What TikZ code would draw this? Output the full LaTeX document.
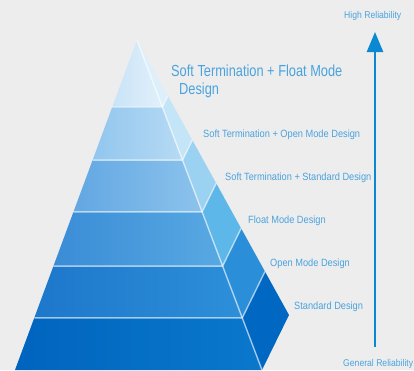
\documentclass[tikz,border=0pt]{standalone}
\usepackage{fontspec}
\setmainfont[FakeStretch=0.8]{Liberation Sans}
\newfontfamily\tierfont[FakeStretch=0.88]{Liberation Sans}
\usetikzlibrary{arrows.meta,calc,positioning}
\definecolor{bg}{HTML}{EDEDED}
\definecolor{txtblue}{HTML}{4AA3DE}
\definecolor{arrblue}{HTML}{0A88D2}
\tikzset{%
	tierlabel/.style = {text=txtblue, font=\tierfont\fontsize{10.5}{12}\selectfont, inner sep=0pt, anchor=west},
	biglabel/.style  = {tierlabel, font=\rmfamily\fontsize{16}{18}\selectfont, align=left},
	endlabel/.style  = {text=txtblue, font=\tierfont\fontsize{9.8}{11}\selectfont, inner sep=0pt, anchor=west},
	seam/.style      = {draw=white, draw opacity=0.6, line width=1.4pt},
	reach/.style     = {draw=arrblue, line width=2.6pt, -{Triangle[length=20pt,width=16pt]}},
}

\begin{document}
\begin{tikzpicture}[x=1pt,y=-1pt]
	\fill[bg] (0,0) rectangle (414,370);
	\useasboundingbox (0,0) rectangle (414,370);
	\coordinate (apex) at (137,40);
	\coordinate (bl) at (15,370);
	\coordinate (br) at (262,370);
	\coordinate (sd) at (289,315);

	% tiers: from / to / front left / front right / side
	\foreach \fa/\fb/\cl/\cr/\cs in {0/0.203/C9E3F7/E2F0FB/DCEFFB,
		0.203/0.364/92C6EE/B6DAF4/C4E4F7,
		0.364/0.521/62A7E3/8CC3EC/9BD1F1,
		0.521/0.685/3A8CD6/58A9E2/5DB7E8,
		0.685/0.842/1D77CB/2D8FD9/2A8ED8,
		0.842/1/0064BE/0A78CC/0068C3}{
		\definecolor{frontl}{HTML}{\cl}
		\definecolor{frontr}{HTML}{\cr}
		\definecolor{side}{HTML}{\cs}
		\shade[left color=frontl, right color=frontr] ($(apex)!\fa!(bl)$) -- ($(apex)!\fa!(br)$) -- ($(apex)!\fb!(br)$) -- ($(apex)!\fb!(bl)$) -- cycle;
		\fill[side] ($(apex)!\fa!(br)$) -- ($(apex)!\fa!(sd)$) -- ($(apex)!\fb!(sd)$) -- ($(apex)!\fb!(br)$) -- cycle;
	}
	\foreach \f in {0.203,0.364,0.521,0.685,0.842}
		\draw[seam] ($(apex)!\f!(bl)$) -- ($(apex)!\f!(br)$) -- ($(apex)!\f!(sd)$);
	\draw[seam] (apex) -- (br);

	\node[biglabel] (t6) at (171,81) {Soft Termination + Float Mode\\\hspace*{8pt}Design};
	\node[tierlabel] (t5) at (203,134.5) {Soft Termination + Open Mode Design};
	\node[tierlabel] (t4) at (225,177.5) {Soft Termination + Standard Design};
	\node[tierlabel] (t3) at (248,220.5) {Float Mode Design};
	\node[tierlabel] (t2) at (270,263.5) {Open Mode Design};
	\node[tierlabel] (t1) at (294,306.5) {Standard Design};

	\node[endlabel] (high) at (344,16) {High Reliability};
	\node[endlabel] (gen) at (343,364) {General Reliability};
	\coordinate (lo) at (375,347);
	\coordinate (hi) at (375,32);
	\draw[reach] (lo) -- (hi);
\end{tikzpicture}
\end{document}
